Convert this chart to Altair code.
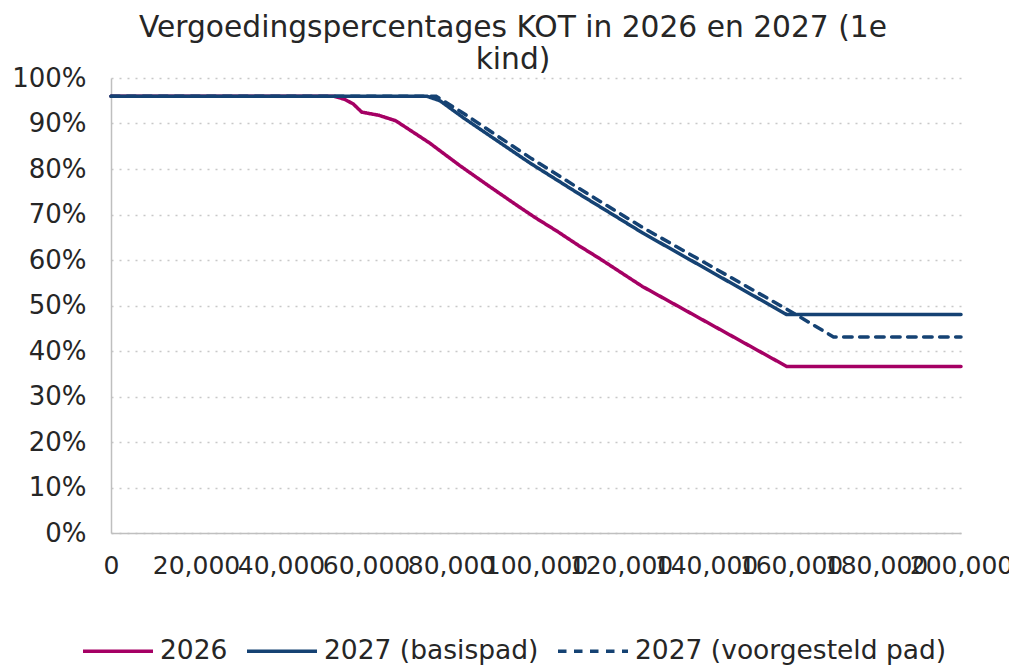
import altair as alt
import pandas as pd

series_names = ["2026", "2027 (basispad)", "2027 (voorgesteld pad)"]

inkomen_2026 = [0, 52500, 55000, 57000, 59000, 63000, 67000, 75000, 82000, 89000, 96000, 100000, 105000, 110000, 115000, 125000, 159000, 200000]
pct_2026 = [0.960, 0.960, 0.953, 0.943, 0.925, 0.918, 0.906, 0.857, 0.808, 0.762, 0.717, 0.692, 0.663, 0.632, 0.603, 0.542, 0.366, 0.366]

inkomen_basis = [0, 74300, 77400, 83000, 98600, 110000, 125000, 159000, 200000]
pct_basis = [0.960, 0.960, 0.950, 0.912, 0.813, 0.746, 0.660, 0.480, 0.480]

inkomen_voorst = [0, 76500, 83000, 98600, 110000, 125000, 159000, 170000, 200000]
pct_voorst = [0.960, 0.960, 0.922, 0.825, 0.758, 0.672, 0.492, 0.431, 0.431]

x_ticks = list(range(0, 200001, 20000))
y_ticks = [i / 10 for i in range(0, 11)]

rows = []
for name, xs, ys in [(series_names[0], inkomen_2026, pct_2026),
                     (series_names[1], inkomen_basis, pct_basis),
                     (series_names[2], inkomen_voorst, pct_voorst)]:
    for i, (x, y) in enumerate(zip(xs, ys)):
        rows.append({"serie": name, "inkomen": x, "pct": y, "order": i})
df = pd.DataFrame(rows)

FONT = "DejaVu Sans"
TXT = "#262626"

legend_kw = dict(title=None, orient="none", direction="horizontal",
                 legendX=-30, legendY=536, symbolType="stroke",
                 symbolSize=4900, symbolStrokeWidth=3.5, columnPadding=12,
                 labelOffset=5, labelLimit=500)

chart = alt.Chart(df).mark_line(strokeWidth=3.5, strokeCap="round").encode(
    x=alt.X("inkomen:Q",
            scale=alt.Scale(domain=[0, 200000], nice=False),
            axis=alt.Axis(values=x_ticks, format=",d", title=None, labelOverlap=False,
                          labelFlush=False, grid=False, ticks=False, labelPadding=20,
                          labelFontSize=25,
                          domainColor="#bfbfbf", domainWidth=1.5)),
    y=alt.Y("pct:Q",
            scale=alt.Scale(domain=[0, 1], nice=False),
            axis=alt.Axis(values=y_ticks, format=".0%", title=None, ticks=False,
                          labelPadding=25, grid=True, gridDash=[2, 6], gridColor="#c8c8c8",
                          gridWidth=1.5, domainColor="#bfbfbf", domainWidth=1.5)),
    color=alt.Color("serie:N",
                    scale=alt.Scale(domain=series_names, range=["#A50064", "#154273", "#154273"]),
                    legend=alt.Legend(**legend_kw)),
    strokeDash=alt.StrokeDash("serie:N",
                              scale=alt.Scale(domain=series_names, range=[[1, 0], [1, 0], [8.5, 7.5]]),
                              legend=alt.Legend(**legend_kw)),
    order="order:Q",
).properties(
    width=850,
    height=455,
    title=alt.TitleParams(["Vergoedingspercentages KOT in 2026 en 2027 (1e", "kind)"],
                          anchor="middle", dx=-23, offset=-11, fontSize=29.7, font=FONT,
                          fontWeight="normal", color=TXT, lineHeight=32),
    autosize=alt.AutoSizeParams(type="none"),
    padding={"left": 103, "top": 70, "right": 48, "bottom": 140},
).configure_view(stroke=None).configure_axis(
    labelFont=FONT, labelFontSize=26, labelColor=TXT
).configure_legend(
    labelFont=FONT, labelFontSize=26.5, labelColor=TXT
)

chart.save("out.html", embed_options={"renderer": "svg", "actions": False})
